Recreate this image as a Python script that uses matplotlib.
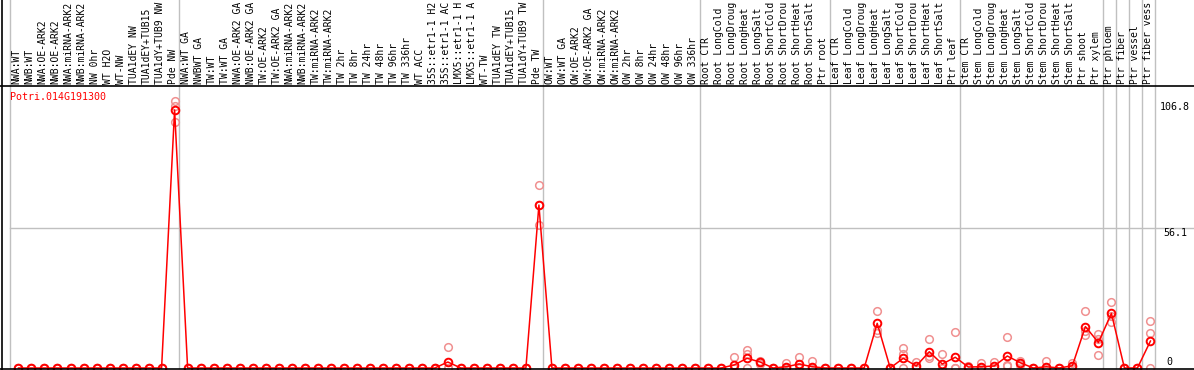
import numpy as np
import matplotlib.pyplot as plt
from matplotlib.lines import Line2D
from matplotlib.transforms import blended_transform_factory

W, H = 1194, 370

# sample names (88 columns), as far as the header shows them
samples = [
    "NWA:WT", "NWB:WT", "NWA:OE-ARK2", "NWB:OE-ARK2", "NWA:miRNA-ARK2", "NWB:miRNA-ARK2",
    "NW 0hr", "WT H2O", "WT-NW", "TUA1dEY NW", "TUA1dEY+TUB15", "TUA1dY+TUB9 NW", "Pde NW",
    "NWA:WT GA", "NWBWT GA", "TW:WT", "TW:WT GA", "NWA:OE-ARK2 GA", "NWB:OE-ARK2 GA",
    "TW:OE-ARK2", "TW:OE-ARK2 GA", "NWA:miRNA-ARK2", "NWB:miRNA-ARK2", "TW:miRNA-ARK2",
    "TW:miRNA-ARK2", "TW 2hr", "TW 8hr", "TW 24hr", "TW 48hr", "TW 96hr", "TW 336hr", "WT ACC",
    "35S::etr1-1 H2", "35S::etr1-1 AC", "LMX5::etr1-1 H", "LMX5::etr1-1 A", "WT-TW",
    "TUA1dEY TW", "TUA1dEY+TUB15", "TUA1dY+TUB9 TW", "Pde TW",
    "OW:WT", "OW:WT GA", "OW:OE-ARK2", "OW:OE-ARK2 GA", "OW:miRNA-ARK2", "OW:miRNA-ARK2",
    "OW 2hr", "OW 8hr", "OW 24hr", "OW 48hr", "OW 96hr", "OW 336hr",
    "Root CTR", "Root LongCold", "Root LongDroug", "Root LongHeat", "Root LongSalt",
    "Root ShortCold", "Root ShortDrou", "Root ShortHeat", "Root ShortSalt", "Ptr root",
    "Leaf CTR", "Leaf LongCold", "Leaf LongDroug", "Leaf LongHeat", "Leaf LongSalt",
    "Leaf ShortCold", "Leaf ShortDrou", "Leaf ShortHeat", "Leaf ShortSalt", "Ptr leaf",
    "Stem CTR", "Stem LongCold", "Stem LongDroug", "Stem LongHeat", "Stem LongSalt",
    "Stem ShortCold", "Stem ShortDrou", "Stem ShortHeat", "Stem ShortSalt", "Ptr shoot",
    "Ptr xylem", "Ptr phloem", "Ptr fiber", "Ptr vessel", "Ptr fiber vess",
]

# mean expression per sample
mean_values = [0] * 12 + [103.4] + [0] * 20 + [2.4] + [0] * 6 + [65.3] + [0] * 12 + [
    0, 0, 1.2, 3.9, 2.4, 0, 0.5, 1.6, 0.5, 0,
    0, 0, 0, 17.9, 0, 3.9, 0.8, 6.5, 1.6, 4.3,
    0.4, 0.5, 0.8, 4.8, 2.1, 0, 0.5, 0, 0.9, 16.6, 10.2,
    21.9, 0, 0, 10.8,
]

# replicates
rep1 = [0] * 12 + [106.8] + [0] * 20 + [8.4] + [0] * 6 + [73.3] + [0] * 12 + [
    0, 0, 4.3, 7.2, 3.0, 0, 1.9, 4.3, 2.9, 0,
    0, 0, 0, 22.7, 0, 7.9, 2.5, 11.5, 5.6, 14.3,
    0.8, 1.9, 2.5, 12.3, 2.9, 0, 2.9, 0, 1.9, 22.7, 13.6,
    26.3, 0, 0, 18.7,
]
rep2 = [0] * 12 + [98.6] + [0] * 20 + [0] + [0] * 6 + [57.3] + [0] * 12 + [
    0, 0, 0, 5.6, 2.4, 0, 0, 0.5, 0, 0,
    0, 0, 0, 15.2, 0, 5.6, 0, 4.8, 0, 0,
    0.4, 0, 0, 1.2, 2.1, 0, 0, 0, 0.8, 14.7, 5.2,
    18.6, 0, 0, 13.9,
]
rep3 = [0] * 12 + [104.8] + [0] * 20 + [0] + [0] * 6 + [65.3] + [0] * 12 + [
    0, 0, 0, 0, 1.8, 0, 0, 0, 0, 0,
    0, 0, 0, 14.1, 0, 0, 0, 3.9, 0, 0,
    0, 0, 0, 0.8, 1.3, 0, 0, 0, 0, 13.4, 11.8,
    20.8, 0, 0, 0,
]

gene = "Potri.014G191300"
y_labels = ["106.8", "56.1", "0"]
grid_value = 56.1
group_ends = [12, 40, 52, 62, 72, 83, 84, 85, 86]

mono = "DejaVu Sans Mono"
fs = 7.0

fig = plt.figure(figsize=(W / 100, H / 100), dpi=100)
ax_left, ax_right, ax_top, ax_bot = 10, 1155, 86, 368
ax = fig.add_axes([ax_left / W, (H - ax_bot) / H, (ax_right - ax_left) / W, (ax_bot - ax_top) / H])
for s in ax.spines.values():
    s.set_visible(False)
ax.set_xticks([])
ax.set_yticks([])
ax.set_xlim(-0.65, 87.35)
ymax = grid_value * (ax_bot - ax_top) / (368 - 228)
ax.set_ylim(0, ymax)

x = np.arange(len(samples))
ext = 1 + ax_top / (ax_bot - ax_top)

# grey separators
ax.axvline(-0.65, color="#c0c0c0", lw=1, ymax=ext, clip_on=False)
for g in group_ends:
    ax.axvline(g + 0.35, color="#c0c0c0", lw=1, ymax=ext, clip_on=False)
ax.axvline(87.35, color="#c0c0c0", lw=1, ymax=ext, clip_on=False)
ax.axhline(grid_value, color="#c0c0c0", lw=1, xmax=(W - ax_left) / (ax_right - ax_left), clip_on=False)

# replicates, line and means
for rep in (rep1, rep2, rep3):
    ax.plot(x, rep, "o", ms=5.5, mfc="none", mec="#f09090", mew=1.1, clip_on=False)
ax.plot(x, mean_values, "-", color="red", lw=1.1, clip_on=False)
ax.plot(x, mean_values, "o", ms=5.5, mfc="none", mec="red", mew=1.4, clip_on=False)

# sample labels
tr = blended_transform_factory(ax.transData, ax.transAxes)
for i, name in enumerate(samples):
    ax.text(i - 0.15, 1 + 1.5 / (ax_bot - ax_top), name, rotation=90, ha="center", va="bottom",
            family=mono, fontsize=fs, transform=tr, clip_on=False)

# frame lines
fig.add_artist(Line2D([0, 1], [(H - ax_top + 0.5) / H] * 2, color="black", lw=1.2, transform=fig.transFigure))
fig.add_artist(Line2D([0, 1], [(H - ax_bot - 0.5) / H] * 2, color="black", lw=1.2, transform=fig.transFigure))
fig.add_artist(Line2D([2 / W, 2 / W], [0, 1], color="black", lw=1.2, transform=fig.transFigure))

fig.text(10 / W, 1 - 97 / H, gene, color="red", family=mono, fontsize=7.2, va="center", ha="left")
fig.text(1160 / W, 1 - 107 / H, y_labels[0], family=mono, fontsize=7.2, va="center", ha="left")
fig.text(1163 / W, 1 - 233 / H, y_labels[1], family=mono, fontsize=7.2, va="center", ha="left")
fig.text(1166 / W, 1 - 362 / H, y_labels[2], family=mono, fontsize=7.2, va="center", ha="left")

fig.savefig("out.png", dpi=100)
